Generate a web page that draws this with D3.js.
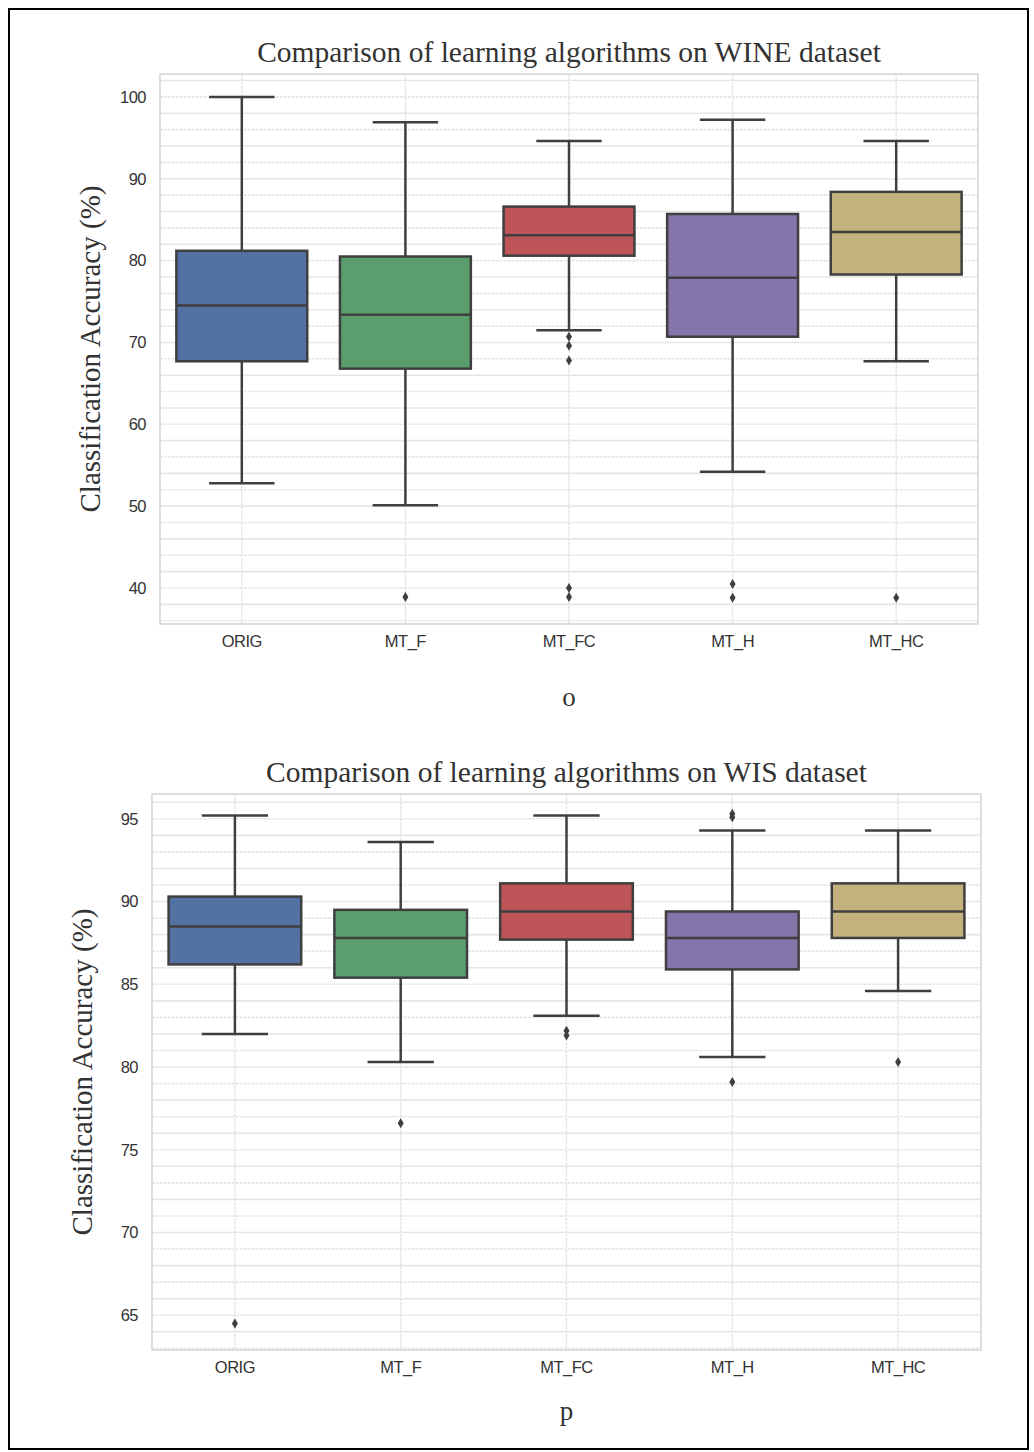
<!DOCTYPE html>
<html>
<head>
<meta charset="utf-8">
<script src="https://cdn.jsdelivr.net/npm/d3@7"></script>
<style>
  body { margin: 0; background: #fff; }
  svg text { fill: #333; }
</style>
</head>
<body>
<svg id="fig" width="1034" height="1452"></svg>
<script>
// Categories and colours
const algos = ["ORIG", "MT_F", "MT_FC", "MT_H", "MT_HC"];
const colors = ["#5471a4", "#5a9e6d", "#bd5458", "#8475aa", "#c3b27e"];

// WINE dataset: [lowWhisker, q1, median, q3, highWhisker]
const wineStats = [
  [52.8, 67.7, 74.5, 81.2, 100.0],
  [50.1, 66.8, 73.4, 80.5, 96.9],
  [71.5, 80.6, 83.1, 86.6, 94.6],
  [54.2, 70.7, 77.9, 85.7, 97.2],
  [67.7, 78.3, 83.5, 88.4, 94.6]
];
const wineOutliers = [
  [],
  [38.9],
  [70.7, 69.6, 67.8, 40.0, 38.9],
  [40.5, 38.8],
  [38.8]
];
const wineTicks = [40, 50, 60, 70, 80, 90, 100];

// WIS dataset
const wisStats = [
  [82.0, 86.2, 88.5, 90.3, 95.2],
  [80.3, 85.4, 87.8, 89.5, 93.6],
  [83.1, 87.7, 89.4, 91.1, 95.2],
  [80.6, 85.9, 87.8, 89.4, 94.3],
  [84.6, 87.8, 89.4, 91.1, 94.3]
];
const wisOutliers = [
  [64.5],
  [76.6],
  [82.2, 81.9],
  [95.3, 95.1, 79.1],
  [80.3]
];
const wisTicks = [65, 70, 75, 80, 85, 90, 95];

const svg = d3.select("#fig");

// outer frame
svg.append("rect")
  .attr("x", 9).attr("y", 9)
  .attr("width", 1019).attr("height", 1440)
  .attr("fill", "none").attr("stroke", "#000").attr("stroke-width", 2);

function drawPanel(opts) {
  const { left, right, top, bottom, domain, gridStep, ticks, stats, outliers, title, letter, letterY } = opts;
  const g = svg.append("g");

  const x = d3.scaleBand().domain(algos).range([left, right]).padding(0);
  const y = d3.scaleLinear().domain(domain).range([bottom, top]);

  // horizontal grid
  const gridVals = d3.range(Math.ceil(domain[0] / gridStep) * gridStep, domain[1], gridStep);
  g.selectAll(".hgrid")
    .data(gridVals)
    .join("line")
    .attr("x1", left).attr("x2", right)
    .attr("y1", d => y(d)).attr("y2", d => y(d))
    .attr("stroke", "#e6e6e6")
    .attr("stroke-width", 1.6)
    .attr("stroke-dasharray", (d, i) => i % 2 ? null : "3,1");

  // vertical grid at categories
  g.selectAll(".vgrid")
    .data(algos)
    .join("line")
    .attr("x1", d => x(d) + x.bandwidth() / 2).attr("x2", d => x(d) + x.bandwidth() / 2)
    .attr("y1", top).attr("y2", bottom)
    .attr("stroke", "#e3e3e3")
    .attr("stroke-width", 1.4)
    .attr("stroke-dasharray", "3,1");

  // frame
  g.append("rect")
    .attr("x", left).attr("y", top)
    .attr("width", right - left).attr("height", bottom - top)
    .attr("fill", "none").attr("stroke", "#d4d4d4").attr("stroke-width", 1.5);

  const bw = x.bandwidth() * 0.8;
  const lineCol = "#3f3f3f";

  algos.forEach((a, i) => {
    const [lo, q1, med, q3, hi] = stats[i];
    const cx = x(a) + x.bandwidth() / 2;
    const bg = g.append("g");
    // whiskers
    bg.append("line").attr("x1", cx).attr("x2", cx).attr("y1", y(q3)).attr("y2", y(hi))
      .attr("stroke", lineCol).attr("stroke-width", 2.5);
    bg.append("line").attr("x1", cx).attr("x2", cx).attr("y1", y(q1)).attr("y2", y(lo))
      .attr("stroke", lineCol).attr("stroke-width", 2.5);
    // caps
    [lo, hi].forEach(v => {
      bg.append("line").attr("x1", cx - bw / 4).attr("x2", cx + bw / 4)
        .attr("y1", y(v)).attr("y2", y(v))
        .attr("stroke", lineCol).attr("stroke-width", 2.5);
    });
    // box
    bg.append("rect")
      .attr("x", cx - bw / 2).attr("y", y(q3))
      .attr("width", bw).attr("height", y(q1) - y(q3))
      .attr("fill", colors[i]).attr("stroke", lineCol).attr("stroke-width", 2.5);
    // median
    bg.append("line").attr("x1", cx - bw / 2).attr("x2", cx + bw / 2)
      .attr("y1", y(med)).attr("y2", y(med))
      .attr("stroke", lineCol).attr("stroke-width", 2.5);
    // outliers (thin diamonds)
    bg.selectAll(".out")
      .data(outliers[i])
      .join("path")
      .attr("d", "M0,-5L3,0L0,5L-3,0Z")
      .attr("transform", d => `translate(${cx},${y(d)})`)
      .attr("fill", lineCol);
  });

  // y ticks
  g.selectAll(".ytick")
    .data(ticks)
    .join("text")
    .attr("x", left - 14)
    .attr("y", d => y(d))
    .attr("dy", "0.35em")
    .attr("text-anchor", "end")
    .attr("font-family", "Liberation Sans, Arial, sans-serif")
    .attr("font-size", 16.5)
    .attr("letter-spacing", -0.5)
    .text(d => d);

  // x ticks
  g.selectAll(".xtick")
    .data(algos)
    .join("text")
    .attr("x", d => x(d) + x.bandwidth() / 2)
    .attr("y", bottom + 23)
    .attr("text-anchor", "middle")
    .attr("font-family", "Liberation Sans, Arial, sans-serif")
    .attr("font-size", 16.5)
    .attr("letter-spacing", -0.5)
    .text(d => d);

  // title
  g.append("text")
    .attr("x", (left + right) / 2)
    .attr("y", top - 12)
    .attr("text-anchor", "middle")
    .attr("font-family", "Liberation Serif, Times New Roman, serif")
    .attr("font-size", 29.5)
    .attr("fill", "#222")
    .text(title);

  // y label
  g.append("text")
    .attr("transform", `translate(${left - 60},${(top + bottom) / 2}) rotate(-90)`)
    .attr("text-anchor", "middle")
    .attr("font-family", "Liberation Serif, Times New Roman, serif")
    .attr("font-size", 29)
    .attr("fill", "#222")
    .text("Classification Accuracy (%)");

  // panel letter
  g.append("text")
    .attr("x", (left + right) / 2)
    .attr("y", letterY)
    .attr("text-anchor", "middle")
    .attr("font-family", "Liberation Serif, Times New Roman, serif")
    .attr("font-size", 27)
    .attr("fill", "#111")
    .text(letter);
}

drawPanel({
  left: 160, right: 978, top: 74, bottom: 624,
  domain: [35.6, 102.8], gridStep: 2, ticks: wineTicks,
  stats: wineStats, outliers: wineOutliers,
  title: "Comparison of learning algorithms on WINE dataset", letter: "o", letterY: 706
});

drawPanel({
  left: 152, right: 981, top: 794, bottom: 1350,
  domain: [62.9, 96.5], gridStep: 1, ticks: wisTicks,
  stats: wisStats, outliers: wisOutliers,
  title: "Comparison of learning algorithms on WIS dataset", letter: "p", letterY: 1420
});
</script>
</body>
</html>
